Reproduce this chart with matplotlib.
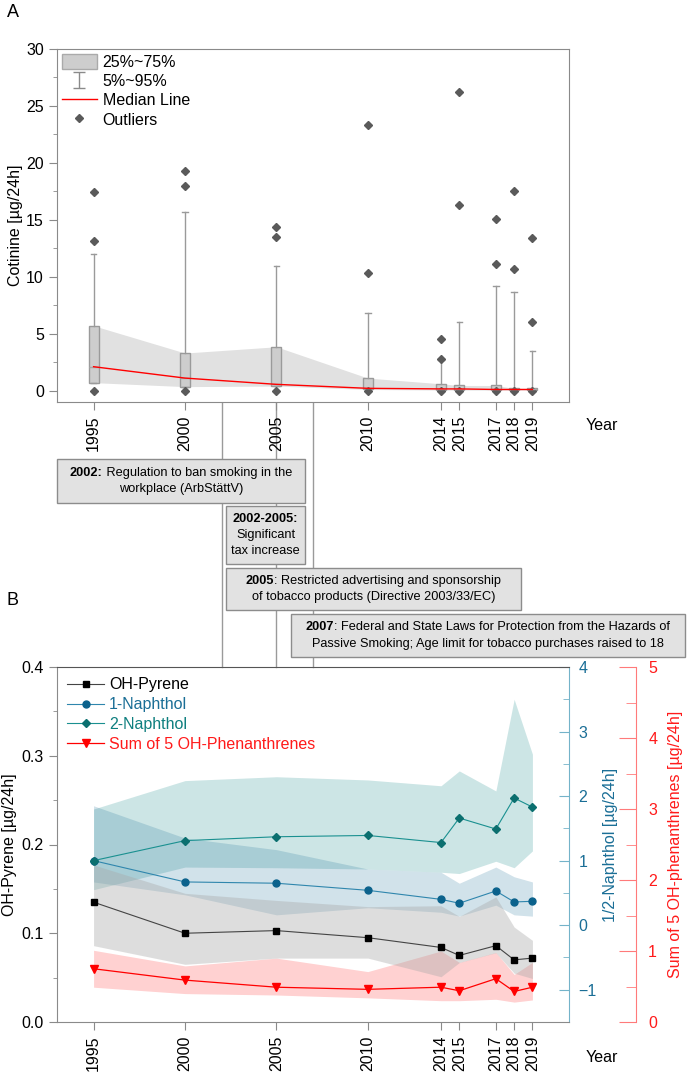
import numpy as np
import matplotlib.pyplot as plt
import matplotlib.transforms as mtransforms
from matplotlib.patches import Patch, Rectangle
from matplotlib.lines import Line2D
from matplotlib.ticker import MultipleLocator

plt.rcParams['font.family'] = ['Liberation Sans', 'DejaVu Sans']
FS = 11.5
plt.rcParams['font.size'] = FS

years = [1995, 2000, 2005, 2010, 2014, 2015, 2017, 2018, 2019]

# panel A: cotinine [µg/24h]
cot_q1 = [0.7, 0.35, 0.4, 0.1, 0.05, 0.05, 0.05, 0.05, 0.05]
cot_med = [2.1, 1.1, 0.55, 0.2, 0.15, 0.15, 0.1, 0.1, 0.1]
cot_q3 = [5.7, 3.3, 3.85, 1.1, 0.6, 0.45, 0.45, 0.2, 0.2]
cot_p95 = [12.0, 15.7, 10.9, 6.8, 2.7, 6.0, 9.2, 8.7, 3.5]
cot_out = [[17.4, 13.1, 0.0], [19.3, 18.0, 0.0], [14.4, 13.5, 0.0],
           [23.3, 10.3, 0.0], [4.5, 2.8, 0.0], [26.2, 16.3, 0.0],
           [15.1, 11.1, 0.0], [17.5, 10.7, 0.0], [13.4, 6.0, 0.0]]

# panel B: medians and 25-75% bands
pyr_med = [0.135, 0.100, 0.103, 0.095, 0.084, 0.075, 0.086, 0.070, 0.072]
pyr_lo = [0.086, 0.065, 0.072, 0.072, 0.051, 0.067, 0.078, 0.055, 0.049]
pyr_hi = [0.177, 0.145, 0.137, 0.130, 0.131, 0.119, 0.141, 0.107, 0.092]

n1_med = [1.0, 0.67, 0.65, 0.54, 0.40, 0.34, 0.53, 0.36, 0.37]
n1_lo = [0.67, 0.47, 0.16, 0.27, 0.20, 0.14, 0.31, 0.16, 0.14]
n1_hi = [1.85, 1.35, 1.17, 0.87, 0.82, 0.65, 0.90, 0.75, 0.67]

n2_med = [1.0, 1.31, 1.37, 1.39, 1.28, 1.66, 1.49, 1.97, 1.83]
n2_lo = [0.55, 0.90, 0.89, 0.87, 0.82, 0.80, 0.99, 0.89, 1.15]
n2_hi = [1.80, 2.24, 2.30, 2.25, 2.16, 2.39, 2.08, 3.50, 2.65]

phe_med = [0.75, 0.59, 0.49, 0.46, 0.49, 0.44, 0.61, 0.43, 0.49]
phe_lo = [0.49, 0.40, 0.38, 0.34, 0.30, 0.30, 0.32, 0.28, 0.31]
phe_hi = [1.01, 0.79, 0.90, 0.71, 1.00, 0.84, 0.98, 0.67, 0.84]

events = [2002, 2005, 2007]

W, H = 688, 1072
fig = plt.figure(figsize=(W / 100, H / 100), dpi=100)
# pixel coords measured from the top-left corner
px = mtransforms.Affine2D().scale(1 / W, -1 / H).translate(0, 1) + fig.transFigure

spine_gray = '#8a8a8a'

# ---------------- panel A ----------------
ax = fig.add_axes([57 / W, 1 - 402 / H, 512 / W, 353 / H])
ax.fill_between(years, cot_q1, cot_q3, color='#e1e1e1', lw=0, zorder=1)
stats = []
for i in range(len(years)):
    stats.append(dict(med=cot_med[i], q1=cot_q1[i], q3=cot_q3[i],
                      whislo=cot_q1[i], whishi=cot_p95[i], fliers=cot_out[i]))
ax.bxp(stats, positions=years, widths=0.55, patch_artist=True, manage_ticks=False,
       boxprops=dict(facecolor='#cdcdcd', edgecolor='#9a9a9a', lw=1),
       whiskerprops=dict(color='#9a9a9a', lw=1),
       capprops=dict(color='#9a9a9a', lw=1), capwidths=0.3,
       medianprops=dict(color='#a8a8a8', lw=1),
       flierprops=dict(marker='D', markersize=4, markerfacecolor='#5a5a5a',
                       markeredgecolor='#5a5a5a'), zorder=2)
ax.plot(years, cot_med, color='red', lw=1, zorder=3)
ax.set_xlim(1993, 2021)
ax.set_ylim(-1, 30)
ax.set_yticks(range(0, 31, 5))
ax.yaxis.set_minor_locator(MultipleLocator(2.5))
ax.set_xticks(years)
ax.set_xticklabels([str(y) for y in years], rotation=90)
ax.tick_params(direction='out', length=6, color=spine_gray, labelsize=FS)
ax.tick_params(which='minor', direction='out', length=3, color=spine_gray)
for s in ax.spines.values():
    s.set_color(spine_gray)
ax.set_ylabel('Cotinine [µg/24h]', fontsize=FS, labelpad=2)

eb = ax.errorbar([np.nan], [np.nan], yerr=[1], fmt='none', ecolor='#8a8a8a',
                 elinewidth=1, capsize=4)
hA = [Patch(facecolor='#cdcdcd', edgecolor='#aaaaaa'), eb,
      Line2D([], [], color='red', lw=1),
      Line2D([], [], ls='none', marker='D', markersize=4, color='#5a5a5a')]
ax.legend(hA, ['25%~75%', '5%~95%', 'Median Line', 'Outliers'], loc='upper left',
          frameon=False, handlelength=2.2, handleheight=1.1, labelspacing=0.2,
          handletextpad=0.35, borderaxespad=0.0, borderpad=0.3, fontsize=FS)

# ---------------- panel B ----------------
axb = fig.add_axes([57 / W, 1 - 1022 / H, 512 / W, 355 / H])
axn = axb.twinx()
axp = axb.twinx()
axb.set_zorder(3)
axb.patch.set_visible(False)
axn.set_zorder(1)
axp.set_zorder(2)
axp.patch.set_visible(False)

axb.fill_between(years, pyr_lo, pyr_hi, color='#a8a8a8', alpha=0.38, lw=0)
axn.fill_between(years, n2_lo, n2_hi, color='#008080', alpha=0.2, lw=0)
axn.fill_between(years, n1_lo, n1_hi, color='#1a6e96', alpha=0.2, lw=0)
axp.fill_between(years, phe_lo, phe_hi, color='#ff0000', alpha=0.18, lw=0)

l_pyr, = axb.plot(years, pyr_med, color='#444444', lw=0.8, marker='s', markersize=5,
                  markerfacecolor='black', markeredgecolor='black')
l_n1, = axn.plot(years, n1_med, color='#2f86ad', lw=0.8, marker='o', markersize=5,
                 markerfacecolor='#0b628c', markeredgecolor='#0b628c')
l_n2, = axn.plot(years, n2_med, color='#1a9090', lw=0.8, marker='D', markersize=4.5,
                 markerfacecolor='#0b6f6f', markeredgecolor='#0b6f6f')
l_phe, = axp.plot(years, phe_med, color='red', lw=0.9, marker='v', markersize=6)

axb.set_xlim(1993, 2021)
axb.set_ylim(0, 0.4)
axb.set_yticks([0.0, 0.1, 0.2, 0.3, 0.4])
axb.set_yticklabels(['0.0', '0.1', '0.2', '0.3', '0.4'])
axb.yaxis.set_minor_locator(MultipleLocator(0.05))
axb.set_xticks(years)
axb.set_xticklabels([str(y) for y in years], rotation=90)
axb.tick_params(direction='out', length=6, color=spine_gray, labelsize=FS)
axb.tick_params(which='minor', direction='out', length=3, color=spine_gray)
for k in ['left', 'bottom']:
    axb.spines[k].set_color(spine_gray)
axb.spines['top'].set_color('#555555')
axb.spines['right'].set_visible(False)
axb.set_ylabel('OH-Pyrene [µg/24h]', fontsize=FS, labelpad=3)

teal_sp = '#74b3c9'
teal_tx = '#1a6e96'
axn.set_ylim(-1.5, 4)
axn.set_yticks([-1, 0, 1, 2, 3, 4])
axn.yaxis.set_minor_locator(MultipleLocator(0.5))
axn.tick_params(axis='y', direction='in', length=7, color=teal_sp, labelcolor=teal_tx,
                pad=7, labelsize=FS)
axn.tick_params(axis='y', which='minor', direction='in', length=4, color=teal_sp)
axn.spines['right'].set_color(teal_sp)
for k in ['left', 'top', 'bottom']:
    axn.spines[k].set_visible(False)
axn.set_ylabel('1/2-Naphthol [µg/24h]', color=teal_tx, fontsize=FS, labelpad=4)

red_sp = '#ff7a7a'
axp.spines['right'].set_position(('outward', 48))
axp.set_ylim(0, 5)
axp.set_yticks(range(0, 6))
axp.yaxis.set_minor_locator(MultipleLocator(0.5))
axp.tick_params(axis='y', direction='in', length=12, color=red_sp, labelcolor='#ff1a1a',
                pad=9, labelsize=FS)
axp.tick_params(axis='y', which='minor', direction='in', length=7, color=red_sp)
axp.spines['right'].set_color(red_sp)
for k in ['left', 'top', 'bottom']:
    axp.spines[k].set_visible(False)
axp.set_ylabel('Sum of 5 OH-phenanthrenes [µg/24h]', color='#ff1a1a', fontsize=FS,
               labelpad=8)

legB = axb.legend([l_pyr, l_n1, l_n2, l_phe],
                  ['OH-Pyrene', '1-Naphthol', '2-Naphthol', 'Sum of 5 OH-Phenanthrenes'],
                  loc='upper left', frameon=False, handlelength=2.3, labelspacing=0.3,
                  handletextpad=0.3, borderaxespad=0.25, fontsize=FS)
for t, c in zip(legB.get_texts(), ['black', teal_tx, '#0e7f7f', '#ff1a1a']):
    t.set_color(c)

# ---------------- labels and event annotations ----------------
fig.text(7, 4, 'A', transform=px, fontsize=13, va='top', ha='left')
fig.text(7, 592, 'B', transform=px, fontsize=13, va='top', ha='left')
fig.text(602, 425, 'Year', transform=px, fontsize=FS, ha='center', va='center')
fig.text(602, 1058, 'Year', transform=px, fontsize=FS, ha='center', va='center')

vline_tr = mtransforms.blended_transform_factory(ax.transData, px)
for yr in events:
    fig.add_artist(Line2D([yr, yr], [402, 667], transform=vline_tr, color='#9a9a9a',
                          lw=1, zorder=-1))

boxes = [
    ((57, 459, 305, 503), [('2002:', ' Regulation to ban smoking in the'),
                           ('', 'workplace (ArbStättV)')]),
    ((226, 506, 305, 564), [('2002-2005:', ''), ('', 'Significant'), ('', 'tax increase')]),
    ((226, 568, 521, 610), [('2005', ': Restricted advertising and sponsorship'),
                            ('', 'of tobacco products (Directive 2003/33/EC)')]),
    ((291, 614, 685, 657), [('2007', ': Federal and State Laws for Protection from the Hazards of'),
                            ('', 'Passive Smoking; Age limit for tobacco purchases raised to 18')]),
]
renderer = fig.canvas.get_renderer()
fs_box = 9.2
line_h = 16
for (x0, y0, x1, y1), lines in boxes:
    fig.add_artist(Rectangle((x0, y0), x1 - x0, y1 - y0, transform=px,
                             facecolor='#e2e2e2', edgecolor='#8c8c8c', lw=1, zorder=2))
    cx = (x0 + x1) / 2
    cy = (y0 + y1) / 2
    n = len(lines)
    for i, (b, r) in enumerate(lines):
        yy = cy + (i - (n - 1) / 2) * line_h
        tb = fig.text(0, yy, b, transform=px, fontsize=fs_box, weight='bold',
                      va='center', ha='left', zorder=3)
        tr = fig.text(0, yy, r, transform=px, fontsize=fs_box, va='center',
                      ha='left', zorder=3)
        wb = tb.get_window_extent(renderer).width if b else 0
        wr = tr.get_window_extent(renderer).width if r else 0
        start = cx - (wb + wr) / 2
        tb.set_x(start)
        tr.set_x(start + wb)

fig.savefig('out.png', dpi=100)
